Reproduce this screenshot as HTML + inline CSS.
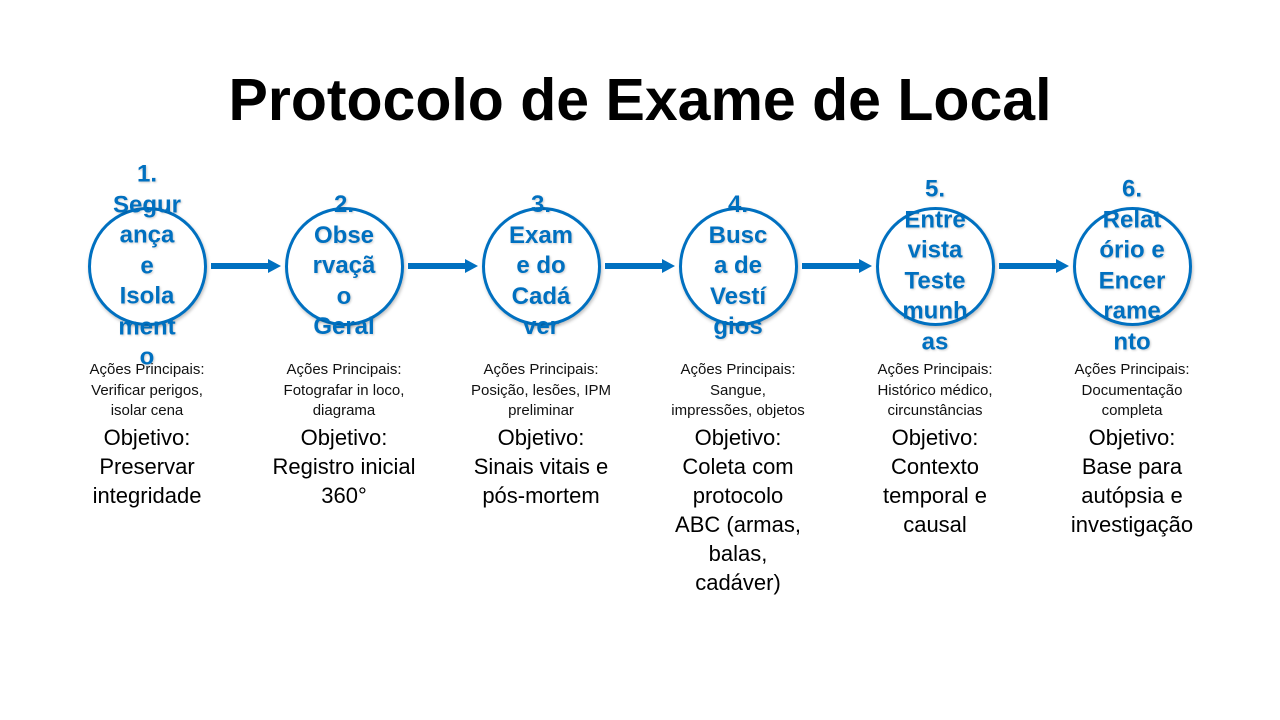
<!DOCTYPE html>
<html><head><meta charset="utf-8"><style>
body{margin:0;width:1280px;height:720px;background:#fff;position:relative;overflow:hidden;font-family:"Liberation Sans",sans-serif;}
h1{position:absolute;top:62px;left:0;width:1280px;text-align:center;margin:0;font-size:59px;font-weight:bold;color:#000;letter-spacing:0px;line-height:76px;}
.c{position:absolute;top:207px;width:113px;height:113px;border:3px solid #0070C0;border-radius:50%;background:#fff;box-shadow:1px 2px 3px rgba(0,0,0,.25);}
.t{position:absolute;top:266px;width:120px;transform:translateY(-50%);text-align:center;color:#0070C0;font-weight:bold;font-size:24px;line-height:30.5px;text-shadow:1px 1px 2px rgba(0,0,0,.2);}
.s{position:absolute;top:360px;width:190px;text-align:center;font-size:15px;line-height:20.5px;color:#111;}
.o{position:absolute;top:423px;width:190px;text-align:center;font-size:22px;line-height:29px;color:#000;}
</style></head><body>
<h1>Protocolo de Exame de Local</h1>
<svg width="1280" height="720" style="position:absolute;left:0;top:0">
<g stroke="#0070C0" stroke-width="6" fill="#0070C0">
<line x1="211" y1="266" x2="268" y2="266"/><path d="M268,259 L281,266 L268,273Z" stroke="none"/>
<line x1="408" y1="266" x2="465" y2="266"/><path d="M465,259 L478,266 L465,273Z" stroke="none"/>
<line x1="605" y1="266" x2="662" y2="266"/><path d="M662,259 L675,266 L662,273Z" stroke="none"/>
<line x1="802" y1="266" x2="859" y2="266"/><path d="M859,259 L872,266 L859,273Z" stroke="none"/>
<line x1="999" y1="266" x2="1056" y2="266"/><path d="M1056,259 L1069,266 L1056,273Z" stroke="none"/>
</g></svg>
<div class="c" style="left:88px"></div><div class="c" style="left:285px"></div><div class="c" style="left:482px"></div><div class="c" style="left:679px"></div><div class="c" style="left:876px"></div><div class="c" style="left:1073px"></div>
<div class="t" style="left:87px">1.<br>Segur<br>ança<br>e<br>Isola<br>ment<br>o</div>
<div class="t" style="left:284px">2.<br>Obse<br>rvaçã<br>o<br>Geral</div>
<div class="t" style="left:481px">3.<br>Exam<br>e do<br>Cadá<br>ver</div>
<div class="t" style="left:678px">4.<br>Busc<br>a de<br>Vestí<br>gios</div>
<div class="t" style="left:875px">5.<br>Entre<br>vista<br>Teste<br>munh<br>as</div>
<div class="t" style="left:1072px">6.<br>Relat<br>ório e<br>Encer<br>rame<br>nto</div>
<div class="s" style="left:52px">Ações Principais:<br>Verificar perigos,<br>isolar cena</div>
<div class="s" style="left:249px">Ações Principais:<br>Fotografar in loco,<br>diagrama</div>
<div class="s" style="left:446px">Ações Principais:<br>Posição, lesões, IPM<br>preliminar</div>
<div class="s" style="left:643px">Ações Principais:<br>Sangue,<br>impressões, objetos</div>
<div class="s" style="left:840px">Ações Principais:<br>Histórico médico,<br>circunstâncias</div>
<div class="s" style="left:1037px">Ações Principais:<br>Documentação<br>completa</div>
<div class="o" style="left:52px">Objetivo:<br>Preservar<br>integridade</div>
<div class="o" style="left:249px">Objetivo:<br>Registro inicial<br>360°</div>
<div class="o" style="left:446px">Objetivo:<br>Sinais vitais e<br>pós-mortem</div>
<div class="o" style="left:643px">Objetivo:<br>Coleta com<br>protocolo<br>ABC (armas,<br>balas,<br>cadáver)</div>
<div class="o" style="left:840px">Objetivo:<br>Contexto<br>temporal e<br>causal</div>
<div class="o" style="left:1037px">Objetivo:<br>Base para<br>autópsia e<br>investigação</div>
</body></html>
